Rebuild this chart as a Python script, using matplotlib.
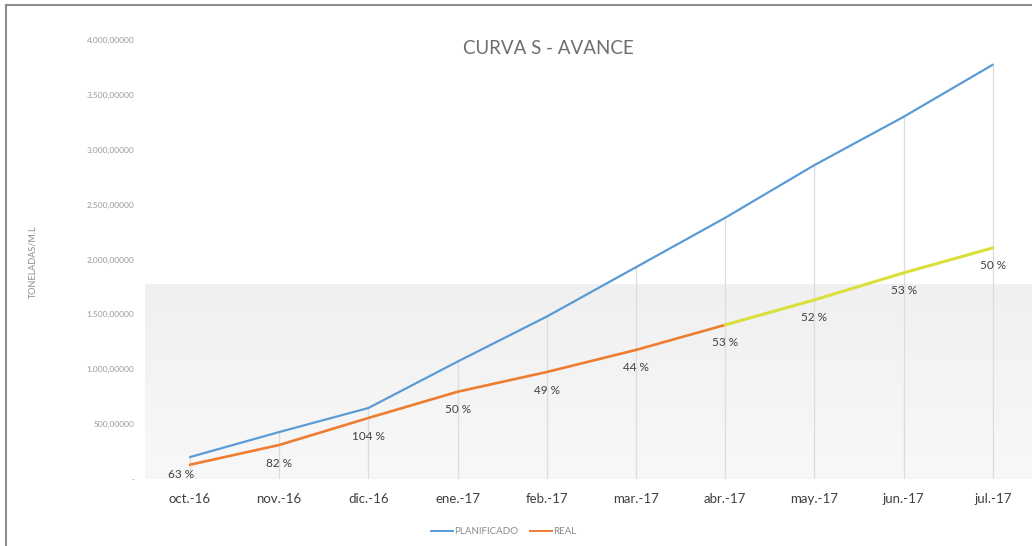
import numpy as np
import matplotlib
matplotlib.use("Agg")
import matplotlib.pyplot as plt
from matplotlib.colors import LinearSegmentedColormap
from matplotlib.lines import Line2D
from matplotlib.ticker import FuncFormatter

plt.rcParams["font.family"] = ["Lato", "DejaVu Sans"]

# Monthly categories and cumulative tonnage
months = ["oct.-16", "nov.-16", "dic.-16", "ene.-17", "feb.-17",
          "mar.-17", "abr.-17", "may.-17", "jun.-17", "jul.-17"]
planificado = [200, 428, 647, 1070, 1480, 1930, 2380, 2860, 3300, 3775]
real = [130, 310, 556, 795, 975, 1176, 1404, 1632, 1878, 2106]
avance_pct = ["63 %", "82 %", "104 %", "50 %", "49 %",
              "44 %", "53 %", "52 %", "53 %", "50 %"]
real_split = 6  # last month with measured progress; later points are projected

yticks = [0, 500, 1000, 1500, 2000, 2500, 3000, 3500, 4000]

W, H = 1032, 546
fig = plt.figure(figsize=(W / 100, H / 100), dpi=100)
fig.patch.set_facecolor("white")

x0, x1 = 145.4, 1032
y_top, y_bot = 40, 479
ax = fig.add_axes([x0 / W, 1 - y_bot / H, (x1 - x0) / W, (y_bot - y_top) / H])
x = np.arange(len(months))
spacing = 89.2
ax.set_xlim(-0.5, -0.5 + (x1 - x0) / spacing)
ax.set_ylim(0, 4000)
ax.set_facecolor("none")

# soft grey band behind the lower part of the plot area
grad = np.linspace(0, 1, 256).reshape(-1, 1)
band_cmap = LinearSegmentedColormap.from_list("band", ["#f8f8f8", "#f0f0f0"])
ax.imshow(grad, aspect="auto", cmap=band_cmap, origin="lower",
          extent=[-0.5, ax.get_xlim()[1], 0, 1770], zorder=0)

# drop lines from the planned curve down to the axis
ax.vlines(x, 0, planificado, colors="#dcdcdc", linewidth=0.9, zorder=1)

blue, orange, yellow = "#5b9bd5", "#ed7d31", "#d9e03a"
ax.plot(x, planificado, color=blue, linewidth=1.6, zorder=3,
        solid_capstyle="round")
ax.plot(x[:real_split + 1], real[:real_split + 1], color=orange,
        linewidth=1.9, zorder=3, solid_capstyle="round")
ax.plot(x[real_split:], real[real_split:], color=yellow,
        linewidth=2.2, zorder=3, solid_capstyle="round")

for i, (xi, yi, lbl) in enumerate(zip(x, real, avance_pct)):
    if i == 0:
        # first label sits tight to the left so it clears the axis labels
        off, ha = (3, -7), "right"
    else:
        off, ha = (0, -13), "center"
    ax.annotate(lbl, (xi, yi), xytext=off, textcoords="offset points",
                ha=ha, va="center", fontsize=8.5, color="#404040",
                zorder=4, annotation_clip=False)

for s in ax.spines.values():
    s.set_visible(False)
ax.axhline(0, color="#e6e6e6", linewidth=0.8, zorder=1)

ax.set_xticks(x)
ax.set_xticklabels(months, fontsize=9.5, color="#404040")
ax.set_yticks(yticks)


def fmt(v, _):
    if v == 0:
        return "-"
    s = f"{v:,.0f}".replace(",", ".")
    return s + ",00000"


ax.yaxis.set_major_formatter(FuncFormatter(fmt))
ax.tick_params(axis="x", length=0, pad=10)
ax.tick_params(axis="y", length=0, pad=8, labelsize=6, labelcolor="#9a9a9a")

fig.text(33 / W, 1 - 262 / H, "TONELADAS/M.L", rotation=90, ha="center",
         va="center", fontsize=6.5, color="#8a8a8a")

fig.text(548 / W, 1 - 48 / H, "CURVA S - AVANCE", ha="center", va="center",
         fontsize=13.5, color="#6e6e6e")

handles = [Line2D([], [], color=blue, linewidth=1.4),
           Line2D([], [], color=orange, linewidth=1.4)]
fig.legend(handles, ["PLANIFICADO", "REAL"], loc="center",
           bbox_to_anchor=(504 / W, 1 - 532 / H), ncol=2, frameon=False,
           fontsize=7, handlelength=2.2, handletextpad=0.2,
           columnspacing=1.2, labelcolor="#8a8a8a")

# outer chart frame (left and top edges)
fig.add_artist(Line2D([6 / W, 6 / W], [0, 1 - 5 / H], transform=fig.transFigure,
                      color="#8c8c8c", linewidth=1.5))
fig.add_artist(Line2D([6 / W, 1], [1 - 5 / H, 1 - 5 / H],
                      transform=fig.transFigure, color="#8c8c8c", linewidth=1.5))

fig.savefig("out.png", dpi=100, facecolor="white")
